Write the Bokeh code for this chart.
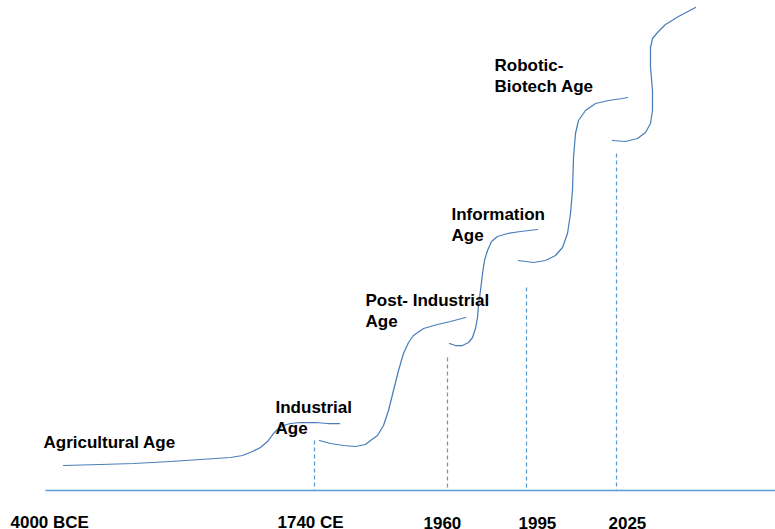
from bokeh.plotting import figure
from bokeh.models import Range1d
from bokeh.embed import file_html
from bokeh.resources import INLINE
from bokeh.core.properties import value

# ---- data (screen-like coordinates; y grows downward) ----
agri_x = [63, 100, 133, 170, 200, 230, 242, 252, 260, 267, 273, 278, 283, 290, 300, 315, 327, 339]
agri_y = [465, 464, 463, 461, 459, 457, 455, 451, 447, 441, 433, 428, 425, 423, 422, 422, 423, 423]

post_x = [319, 330, 343, 355, 365, 370, 377, 383, 388, 393, 398, 403, 408, 413, 423, 437, 450, 465]
post_y = [440, 443, 445, 446, 444, 440, 435, 425, 410, 390, 370, 353, 342, 335, 328, 324, 321, 317]

info_x = [449, 455, 462, 468, 472, 475, 477, 478, 480, 482, 484, 487, 491, 497, 507, 520, 537]
info_y = [343, 345, 345, 342, 337, 328, 317, 305, 290, 273, 260, 250, 241, 236, 233, 231, 229]

robo_x = [518, 533, 545, 555, 562, 567, 570, 572, 573, 575, 578, 585, 595, 608, 622, 627]
robo_y = [260, 262, 260, 255, 247, 233, 213, 190, 157, 133, 120, 110, 103, 100, 98, 97]

next_x = [612, 625, 637, 645, 650, 652, 652, 650, 650, 652, 657, 665, 678, 695]
next_y = [140, 141, 138, 132, 123, 110, 90, 67, 47, 38, 32, 24, 16, 7]

era_labels = [["Agricultural Age"], ["Industrial", "Age"], ["Post- Industrial", "Age"],
              ["Information", "Age"], ["Robotic-", "Biotech Age"]]
era_left = [43, 275, 365, 451, 494]
era_base = [442, 407, 300, 214, 65]

tick_labels = ["4000 BCE", "1740 CE", "1960", "1995", "2025"]
tick_left = [10, 277, 423, 518, 608]

marker_x = [314, 447, 526, 616]
marker_top = [440, 357, 287, 153]

axis_y = 490
axis_x0, axis_x1 = 45, 775

# ---- figure ----
W, H = 775, 529
p = figure(width=W, height=H, output_backend="svg", toolbar_location=None,
           x_range=Range1d(0, W), y_range=Range1d(H, 0),
           min_border=0, outline_line_color=None, background_fill_color="white")
p.axis.visible = False
p.grid.visible = False

curve_color = "#4A7EBB"
light = "#5B9BD5"

for xs, ys in [(agri_x, agri_y), (post_x, post_y), (info_x, info_y),
               (robo_x, robo_y), (next_x, next_y)]:
    p.line(xs, ys, line_color=curve_color, line_width=1.25, line_join="round", line_cap="round")

# baseline axis
p.segment(x0=[axis_x0], y0=[axis_y], x1=[axis_x1], y1=[axis_y], line_color=light, line_width=1.5)

# dashed markers
p.segment(x0=marker_x, y0=marker_top, x1=marker_x, y1=[axis_y] * len(marker_x),
          line_color=light, line_width=1.25, line_dash="4 3")

font = value("Liberation Sans")
lx, ly, lt = [], [], []
for lines, x0, b in zip(era_labels, era_left, era_base):
    for i, s in enumerate(lines):
        lx.append(x0)
        ly.append(b + 21 * i)
        lt.append(s)
p.text(x=lx, y=ly, text=lt, text_font=font, text_font_size="17px", text_font_style="bold",
       text_color="black", text_align="left", text_baseline="alphabetic")

p.text(x=tick_left, y=[522] * len(tick_left), text=tick_labels, text_font=font,
       text_font_size="17px", text_font_style="bold", text_color="black",
       text_align="left", text_baseline="alphabetic")

open("out.html", "w").write(file_html(p, INLINE))
